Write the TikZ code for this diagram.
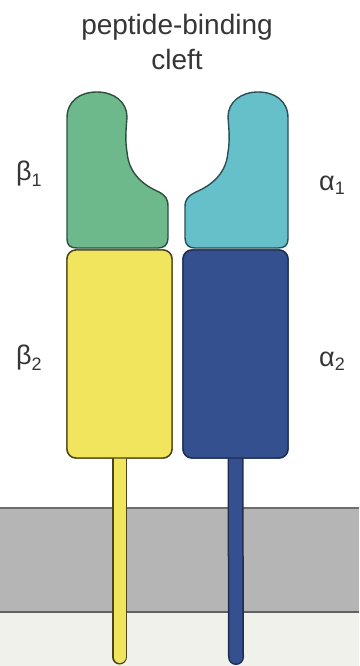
\documentclass[tikz,border=0pt]{standalone}
\usepackage{fontspec}
\setmainfont{Liberation Sans}
\begin{document}
\begin{tikzpicture}[x=1pt,y=-1pt,
  labeltext/.style={text=labelgray,inner sep=0pt,font=\fontsize{28}{35}\selectfont},
  greeklabel/.style={text=labelgray,inner sep=0pt,font=\fontsize{27}{27}\selectfont},
  domainshape/.style={line width=1.4pt,line join=round},
  domainbox/.style={domainshape,rounded corners=9pt,minimum width=105pt,minimum height=208pt,inner sep=0pt},
]
\definecolor{labelgray}{HTML}{363636}
\definecolor{betaone}{HTML}{6EB98B}
\definecolor{betaoneline}{HTML}{2E4E3C}
\definecolor{alphaone}{HTML}{66C0C9}
\definecolor{alphaoneline}{HTML}{2C4E56}
\definecolor{betatwo}{HTML}{F2E55E}
\definecolor{betatwoline}{HTML}{4A4420}
\definecolor{alphatwo}{HTML}{34508F}
\definecolor{alphatwoline}{HTML}{1E2C52}
\definecolor{membrane}{HTML}{B5B5B5}
\definecolor{membraneline}{HTML}{6E6E6E}
\definecolor{cytosol}{HTML}{F1F1EC}
\useasboundingbox (0,0) rectangle (359,666);
\fill[white] (0,0) rectangle (359,666);

% lipid bilayer and the space beneath it
\fill[cytosol] (0,612) rectangle (359,666);
\fill[membrane] (0,508) rectangle (359,612);
\draw[membraneline,line width=2.5pt] (0,508) -- (359,508);
\draw[black!62,line width=2.5pt] (0,612) -- (359,612);

% membrane-proximal domains and transmembrane stalks
\coordinate (bend) at (119.5,657);
\coordinate (aend) at (236,657);
\node[domainbox,fill=betatwo,draw=betatwoline] (b2) at (119.5,354) {};
\node[domainbox,fill=alphatwo,draw=alphatwoline] (a2) at (235.5,354) {};
\draw[betatwoline,line width=15pt,line cap=round] (b2.south) -- (bend);
\draw[betatwo,line width=12pt,line cap=round] (b2.south) -- (bend);
\draw[alphatwoline,line width=16pt,line cap=round] (a2.south) -- (aend);
\draw[alphatwo,line width=13pt,line cap=round] (a2.south) -- (aend);
\node[domainbox,fill=betatwo,draw=betatwoline] at (b2) {};
\node[domainbox,fill=alphatwo,draw=alphatwoline] at (a2) {};

% beta1 domain: half of the binding groove
\draw[domainshape,fill=betaone,draw=betaoneline]
  (67,239) -- (67,118)
  .. controls (67,101) and (80,92) .. (97,92)
  .. controls (114,92) and (127,102) .. (127,117)
  .. controls (126,130) and (125,140) .. (127,152)
  .. controls (129,177) and (148,187) .. (159,192)
  .. controls (166,196) and (168,199) .. (168,207)
  -- (168,238)
  .. controls (168,245) and (164,248) .. (158,248)
  -- (77,248)
  .. controls (70,248) and (67,245) .. (67,239) -- cycle;

% alpha1 domain: the other half of the groove
\draw[domainshape,fill=alphaone,draw=alphaoneline]
  (288,239) -- (288,118)
  .. controls (288,101) and (275,92) .. (258,92)
  .. controls (241,92) and (228,102) .. (228,117)
  .. controls (229,130) and (230,140) .. (228,152)
  .. controls (226,177) and (207,187) .. (196,192)
  .. controls (188,196) and (185,199) .. (185,207)
  -- (185,238)
  .. controls (185,245) and (189,248) .. (195,248)
  -- (278,248)
  .. controls (285,248) and (288,245) .. (288,239) -- cycle;

% labels
\node[labeltext,anchor=north,align=center] (cleft) at (177,14.5) {peptide-binding\\cleft};
\node[greeklabel,anchor=base west] (lb1) at (16,180) {β\raisebox{-6pt}{\fontsize{18}{18}\selectfont 1}};
\node[greeklabel,anchor=base west] (lb2) at (16,364) {β\raisebox{-6pt}{\fontsize{18}{18}\selectfont 2}};
\node[greeklabel,anchor=base west] (la1) at (319,190) {α\raisebox{-4pt}{\fontsize{18}{18}\selectfont 1}};
\node[greeklabel,anchor=base west] (la2) at (319,366) {α\raisebox{-4pt}{\fontsize{18}{18}\selectfont 2}};
\end{tikzpicture}
\end{document}
